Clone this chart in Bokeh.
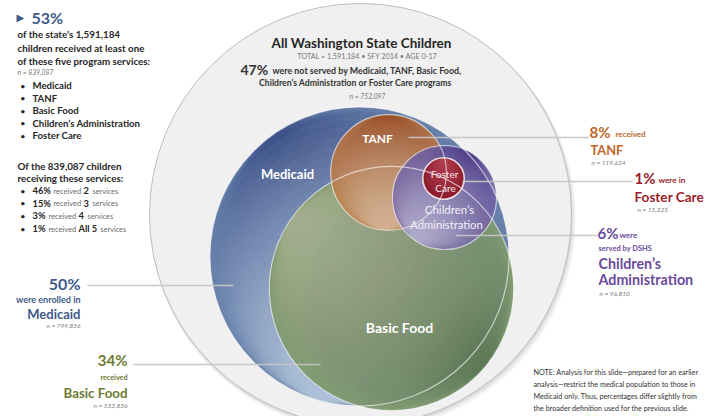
import math
from bokeh.plotting import figure
from bokeh.models import Range1d, ColumnDataSource
from bokeh.core.properties import value
from bokeh.embed import file_html
from bokeh.resources import INLINE

# ---------------- data ----------------
TOTAL = 1591184
SERVED = 839087
NOT_SERVED = 752097
served_pct = "53%"
not_served_pct = "47%"
programs = ["Medicaid", "Basic Food", "TANF", "Children's Administration", "Foster Care"]
counts = [799856, 533836, 119624, 96810, 15325]
pct_labels = ["50%", "34%", "8%", "6%", "1%"]
bullet_programs = ["Medicaid", "TANF", "Basic Food", "Children\u2019s Administration", "Foster Care"]
multi_pct = ["46%", "15%", "3%", "1%"]
multi_n = ["2", "3", "4", "All 5"]

# ---------------- layout / style (screen-like coords, y down) ----------------
W_PX, H_PX = 705, 416
R_ALL = 211
outer_c = (360, 214)
centers = [(359, 256), (391, 288), (388, 172), (444, 197), (443, 178)]
# base, base alpha, (light colour, dir deg, alpha), (dark colour, dir deg, alpha)
styles = [
    ("#6881ab", 1.0, ("#cadaf3", 105, 0.055), ("#3c5283", 235, 0.05)),
    ("#7f9a70", 0.96, ("#b9c9ab", 215, 0.035), ("#5f7d4e", 40, 0.035)),
    ("#be7a45", 0.86, ("#eed9bb", 95, 0.045), ("#9c5220", 270, 0.05)),
    ("#7465a6", 0.86, ("#cfc8e6", 125, 0.045), ("#4b3a85", 300, 0.05)),
    ("#8a1a2a", 1.0, ("#c4505f", 270, 0.05), None),
]
N_LAYERS = 28

FONT = "Lato"
BLUE = "#3e5a89"
GREEN = "#6b7a33"
ORANGE = "#c0672a"
RED = "#9a1d2b"
PURPLE = "#6a4b9c"
DARK = "#262626"
GRAY = "#7a7a7a"

p = figure(width=W_PX, height=H_PX, x_range=Range1d(0, W_PX), y_range=Range1d(H_PX, 0),
           output_backend="svg", toolbar_location=None, min_border=0,
           x_axis_location=None, y_axis_location=None)
p.grid.visible = False
p.outline_line_color = None
p.background_fill_color = "white"
p.border_fill_color = "white"

radii = [R_ALL * math.sqrt(c / TOTAL) for c in counts]

# outer circle with soft shadow
for off, a in [(4, 0.04), (2.5, 0.05), (1.2, 0.06)]:
    p.circle(x=[outer_c[0] + off * 0.6], y=[outer_c[1] + off], radius=R_ALL + off * 0.5,
             fill_color="black", fill_alpha=a, line_color=None)
p.circle(x=[outer_c[0]], y=[outer_c[1]], radius=R_ALL, fill_color="#f0f0f0",
         line_color="#bdbdbd", line_width=1)


def shade(cx, cy, r, spec):
    col, ang, a = spec
    xs, ys, rs = [], [], []
    for k in range(1, N_LAYERS + 1):
        d = r * 0.94 * k / (N_LAYERS + 1)
        xs.append(cx + d * math.cos(math.radians(ang)))
        ys.append(cy + d * math.sin(math.radians(ang)))
        rs.append(r - d)
    p.circle(x="x", y="y", radius="r", source=ColumnDataSource(dict(x=xs, y=ys, r=rs)),
             fill_color=col, fill_alpha=a, line_color=None)


# program circles with layered gradient
for (cx, cy), r, (base, a0, light, dark) in zip(centers, radii, styles):
    p.circle(x=[cx], y=[cy], radius=r, fill_color=base, fill_alpha=a0, line_color=None)
    if dark:
        shade(cx, cy, r, dark)
    shade(cx, cy, r, light)

# outlines on top
for (cx, cy), r, nm in zip(centers, radii, programs):
    p.circle(x=[cx], y=[cy], radius=r, fill_color=None,
             line_color="#f4ecea" if nm == "Foster Care" else "white",
             line_alpha=0.9 if nm == "Foster Care" else 0.6,
             line_width=1.6 if nm == "Foster Care" else 1.2)

# leader lines
leaders = dict(x0=[87, 133, 408, 462, 455], x1=[233, 320, 588, 632, 597], y=[285, 364, 137, 181, 235])
p.segment(x0="x0", y0="y", x1="x1", y1="y", source=ColumnDataSource(leaders),
          line_color="#c6c6c6", line_width=1.4, line_alpha=0.95)


def txt(x, y, s, size, color, bold=False, italic=False, align="left", alpha=1.0, font=FONT):
    style = "bold italic" if bold and italic else "bold" if bold else "italic" if italic else "normal"
    p.text(x=[x], y=[y], text=[s], text_font=value(font), text_font_size=f"{size}px",
           text_color=color, text_font_style=style, text_align=align,
           text_baseline="middle", text_alpha=alpha)


# labels inside circles
W = "white"
txt(287, 173, programs[0], 13, W, bold=True, align="center")
txt(399, 327, programs[1], 14, W, bold=True, align="center")
txt(377, 138, programs[2], 12, W, bold=True, align="center")
txt(449, 209, "Children\u2019s", 11.5, "#f3effa", align="center")
txt(446, 224, "Administration", 11.2, "#f3effa", align="center")
txt(444, 173, "Foster", 10, "#f6e6e8", align="center")
txt(445, 187, "Care", 10, "#f6e6e8", align="center")

# title block
txt(361, 42, "All Washington State Children", 13.5, DARK, bold=True, align="center")
txt(367, 56, f"TOTAL = {TOTAL:,} \u2022 SFY 2014 \u2022 AGE 0-17", 7.2, GRAY, align="center")
txt(240, 69, not_served_pct, 14, "#333333", bold=True)
txt(272, 70, "were not served by Medicaid, TANF, Basic Food,", 8.9, "#333333", bold=True)
txt(355, 82, "Children\u2019s Administration or Foster Care programs", 8.7, "#333333", bold=True, align="center")
txt(367, 95, f"n = {NOT_SERVED:,}", 6.8, GRAY, italic=True, align="center")

# top-left block
txt(16, 17, "\u25B6", 10, BLUE, font="DejaVu Sans")
txt(31, 17, served_pct, 16, BLUE, bold=True)
txt(17, 33, f"of the state\u2019s {TOTAL:,}", 9.8, DARK, bold=True)
txt(17, 47, "children received at least one", 9.8, DARK, bold=True)
txt(17, 60, "of these five program services:", 9.8, DARK, bold=True)
txt(17, 71, f"n = {SERVED:,}", 6.8, GRAY, italic=True)
for i, nm in enumerate(bullet_programs):
    y = 85 + i * 12.5
    txt(20, y, "\u2022", 8, DARK, bold=True)
    txt(32, y, nm, 9.6, DARK, bold=True)

txt(17, 165, f"Of the {SERVED:,} children", 9.8, DARK, bold=True)
txt(17, 177, "receiving these  services:", 9.8, DARK, bold=True)
for i, (pc, n) in enumerate(zip(multi_pct, multi_n)):
    y = 190 + i * 12.7
    txt(20, y, "\u2022", 8, DARK, bold=True)
    wide = len(pc) == 3
    x_rec = 53 if wide else 48
    txt(32, y, pc, 9.3, DARK, bold=True)
    txt(x_rec, y + 0.5, "received", 7.5, "#6a6a6a")
    txt(x_rec + 30, y, n, 9.3, DARK, bold=True)
    txt(x_rec + 30 + (9 if n != "All 5" else 22), y + 0.5, "services", 7.3, "#6a6a6a")

# Medicaid label (left)
txt(80, 283, pct_labels[0], 16, BLUE, bold=True, align="right")
txt(80, 299, "were enrolled in", 9, BLUE, bold=True, align="right")
txt(80, 313, "Medicaid", 13, BLUE, bold=True, align="right")
txt(80, 325, f"n = {counts[0]:,}", 6.5, GRAY, italic=True, align="right")

# Basic Food label (left)
txt(127, 359, pct_labels[1], 15, GREEN, bold=True, align="right")
txt(127, 377, "received", 7.2, GREEN, bold=True, align="right")
txt(127, 392, "Basic Food", 13.3, GREEN, bold=True, align="right")
txt(127, 405, f"n = {counts[1]:,}", 6.5, GRAY, italic=True, align="right")

# TANF label (right)
txt(589, 131, pct_labels[2], 15, ORANGE, bold=True)
txt(615, 133, "received", 8, ORANGE, bold=True)
txt(590, 149, "TANF", 12.8, ORANGE, bold=True)
txt(591, 162, f"n = {counts[2]:,}", 6.5, GRAY, italic=True)

# Foster Care label (right)
txt(634, 177, pct_labels[4], 15, RED, bold=True)
txt(658, 179, "were in", 8.2, RED, bold=True)
txt(634, 196, "Foster Care", 13.6, RED, bold=True)
txt(637, 209, f"n = {counts[4]:,}", 6.5, GRAY, italic=True)

# Children's Administration label (right)
txt(597, 232, pct_labels[3], 15, PURPLE, bold=True)
txt(619, 234, "were", 8, PURPLE, bold=True)
txt(598, 248, "served by DSHS", 7.5, PURPLE, bold=True)
txt(598, 263, "Children\u2019s", 14.3, PURPLE, bold=True)
txt(598, 279, "Administration", 14.3, PURPLE, bold=True)
txt(599, 293, f"n = {counts[3]:,}", 6.5, GRAY, italic=True)

# note
note = ["NOTE: Analysis for this slide\u2014prepared for an earlier",
        "analysis\u2014restrict the medical population to those in",
        "Medicaid only. Thus, percentages differ slightly from",
        "the broader definition used for the previous slide."]
for i, line in enumerate(note):
    txt(533, 372 + i * 12, line, 7.2, "#333333")

open("out.html", "w").write(file_html(p, INLINE))
